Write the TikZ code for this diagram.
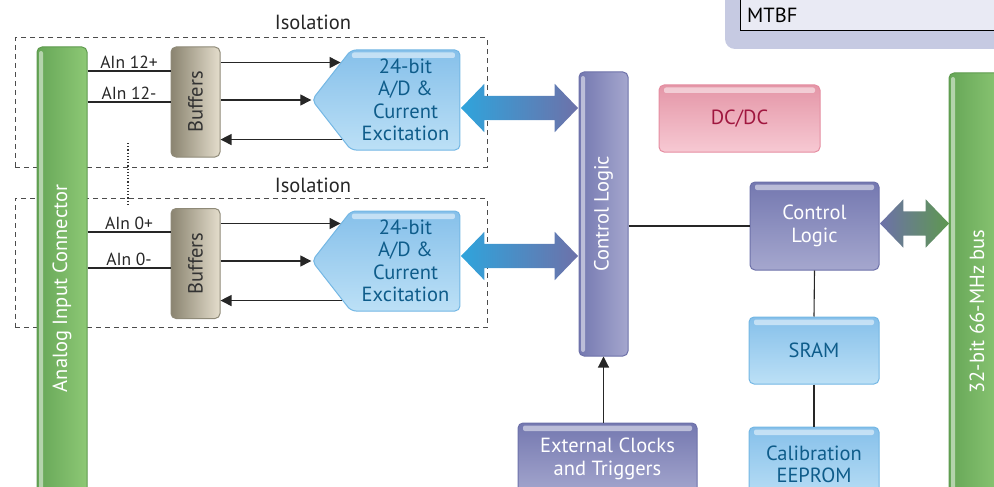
\documentclass[tikz,border=0pt]{standalone}
\usepackage{fontspec}
\setmainfont{PT Sans}
\usetikzlibrary{arrows.meta,positioning,shapes.symbols,shapes.arrows,calc}
\definecolor{cgreenD}{HTML}{66A657}
\definecolor{cgreenL}{HTML}{8DC875}
\definecolor{cgreenE}{HTML}{5E9A4E}
\definecolor{cbufD}{HTML}{8A8470}
\definecolor{cbufL}{HTML}{E4DDCC}
\definecolor{cbufE}{HTML}{8F8A78}
\definecolor{cblueT}{HTML}{86C0EA}
\definecolor{cblueB}{HTML}{BCE0F6}
\definecolor{cblueE}{HTML}{74B7E4}
\definecolor{cblueTx}{HTML}{0E5C8A}
\definecolor{cpurD}{HTML}{7478B0}
\definecolor{cpurL}{HTML}{A5A7CE}
\definecolor{cpurE}{HTML}{6D71A9}
\definecolor{cpinkT}{HTML}{E496A7}
\definecolor{cpinkB}{HTML}{F7C9D3}
\definecolor{cpinkE}{HTML}{E58DA1}
\definecolor{cpinkTx}{HTML}{A0173F}
\definecolor{carrB}{HTML}{2FA4DC}
\definecolor{carrG}{HTML}{5E9850}
\definecolor{cmtbfO}{HTML}{C6CAE2}
\definecolor{cmtbfI}{HTML}{E9EAF4}
\newcommand{\boxfont}{\fontsize{20.5}{22.5}\selectfont}
\newcommand{\labfont}{\fontsize{17.5}{19}\selectfont}
\tikzset{
    gloss/.style={path picture={\fill[white, opacity=0.5, rounded corners=2pt]
        ([xshift=#1, yshift=-2.5pt]path picture bounding box.north west) rectangle
        ([xshift=-5pt, yshift=-8pt]path picture bounding box.north east);}},
    gloss/.default=5pt,
    vgloss/.style={path picture={\fill[white, opacity=0.5, rounded corners=2pt]
        ([xshift=2pt, yshift=-4pt]path picture bounding box.north west) rectangle
        ([xshift=6pt, yshift=4pt]path picture bounding box.south west);}},
    bluebox/.style={draw=cblueE, line width=1pt, rounded corners=5pt, top color=cblueT,
        bottom color=cblueB, text=cblueTx, align=center, font=\boxfont, gloss},
    purplebox/.style={draw=cpurE, line width=1pt, rounded corners=5pt, top color=cpurD,
        bottom color=cpurL, text=white, align=center, font=\boxfont, gloss},
    wire/.style={line width=1.1pt, black!85},
    sigarrow/.style={wire, -{Triangle[length=11pt, width=11pt]}}
}
\begin{document}
\begin{tikzpicture}[
    x=1pt, y=-1pt,
    connbar/.style={draw=cgreenE, line width=1pt, rounded corners=5pt, left color=cgreenD,
        right color=cgreenL, text=white, font=\boxfont, inner sep=0pt, vgloss},
    bufbox/.style={draw=cbufE, line width=1pt, rounded corners=5pt, left color=cbufD,
        right color=cbufL, text=black!80, font=\boxfont, minimum width=49, minimum height=110,
        inner sep=0pt},
    adcbox/.style={bluebox, signal, signal to=west, signal pointer angle=104,
        minimum width=148, minimum height=100, inner sep=0pt, gloss=40pt},
    isobox/.style={draw=black!70, line width=1pt, dash pattern=on 5pt off 4pt,
        minimum width=472, minimum height=129},
    isotext/.style={font=\boxfont, text=black!85},
    ainlab/.style={font=\labfont, text=black!85, inner sep=2pt},
    dblarrow/.style={double arrow, double arrow head extend=12pt, double arrow tip angle=92,
        inner xsep=0pt, inner ysep=12pt}
]
\clip (0,0) rectangle (994,487);

\node[fill=cmtbfO, rounded corners=10pt, minimum width=290, minimum height=69] (mtbfo) at (870,14.5) {};
\node[draw=black, fill=cmtbfI, line width=0.8pt, minimum width=275, minimum height=40] (mtbfc) at (877.5,10) {};
\node[anchor=west, font=\boxfont, inner sep=0pt] (mtbf) at (747,15) {MTBF};

\node[isobox] (iso1) at (251,102.5) {};
\node[isobox] (iso2) at (251,263) {};
\node[isotext] (isolab1) at (313,22) {Isolation};
\node[isotext] (isolab2) at (313,185) {Isolation};

\node[connbar, minimum width=50, minimum height=483] (conn) at (62,288.5) {\rotatebox{90}{Analog Input Connector}};
\node[connbar, minimum width=56, minimum height=477] (bus) at (977,311.5) {\rotatebox{90}{32-bit 66-MHz bus}};

\coordinate (dotsa) at (128,143);
\coordinate (dotsb) at (128,205);
\draw[black!80, line width=1.2pt, dotted] (dotsa) -- (dotsb);

\node[bufbox] (buf1) at (195.5,102) {\rotatebox{90}{Buffers}};
\node[bufbox] (buf2) at (195.5,263.5) {\rotatebox{90}{Buffers}};

\node[adcbox] (adc1) at (405.5,100) {24-bit\\A/D \&\\Current\\Excitation};
\node[adcbox] (adc2) at (405.5,261) {24-bit\\A/D \&\\Current\\Excitation};

\node[purplebox, left color=cpurD, right color=cpurL, minimum width=49, minimum height=284,
    inner sep=0pt, vgloss] (cl1) at (603.5,214) {\rotatebox{90}{Control Logic}};
\node[purplebox, minimum width=129, minimum height=88] (cl2) at (814.5,226) {Control\\Logic};
\node[draw=cpinkE, line width=1pt, rounded corners=5pt, top color=cpinkT, bottom color=cpinkB,
    text=cpinkTx, font=\boxfont, minimum width=161, minimum height=67, gloss] (dcdc) at (739.5,118.5) {DC/DC};
\node[bluebox, minimum width=130, minimum height=67] (sram) at (814,350.5) {SRAM};
\node[bluebox, minimum width=130, minimum height=75] (eeprom) at (814,464.5) {Calibration\\EEPROM};
\node[purplebox, minimum width=179, minimum height=72] (ext) at (607.5,459) {External Clocks\\and Triggers};

\node[dblarrow, left color=carrB, right color=cpurE, minimum height=117] (arr1) at (519.5,108) {};
\node[dblarrow, left color=carrB, right color=cpurE, minimum height=117] (arr2) at (519.5,256) {};
\node[dblarrow, left color=cpurE, right color=carrG, minimum height=69] (arr3) at (914.5,223.5) {};

\draw[wire] ([yshift=31pt]buf1.west -| conn.east) -- node[above, ainlab]{AIn 12+} ([yshift=31pt]buf1.west);
\draw[wire] (buf1.west -| conn.east) -- node[above, ainlab]{AIn 12-} (buf1.west);
\draw[wire] ([yshift=31.5pt]buf2.west -| conn.east) -- node[above, ainlab]{AIn 0+} ([yshift=31.5pt]buf2.west);
\draw[wire] ([yshift=-4.5pt]buf2.west -| conn.east) -- node[above, ainlab]{AIn 0-} ([yshift=-4.5pt]buf2.west);

\draw[sigarrow] (buf1.east |- adc1.150) -- (adc1.150);
\draw[sigarrow] (buf1.east |- adc1.west) -- (adc1.west);
\draw[sigarrow] (adc1.212) -- (adc1.212 -| buf1.east);
\draw[sigarrow] (buf2.east |- adc2.150) -- (adc2.150);
\draw[sigarrow] (buf2.east |- adc2.west) -- (adc2.west);
\draw[sigarrow] (adc2.212) -- (adc2.212 -| buf2.east);

\draw[wire] (cl1.east |- cl2.west) -- (cl2.west);
\draw[wire] (cl2.south) -- (sram.north);
\draw[wire] (sram.south) -- (eeprom.north);
\draw[sigarrow] (cl1.south |- ext.north) -- (cl1.south);
\end{tikzpicture}
\end{document}
